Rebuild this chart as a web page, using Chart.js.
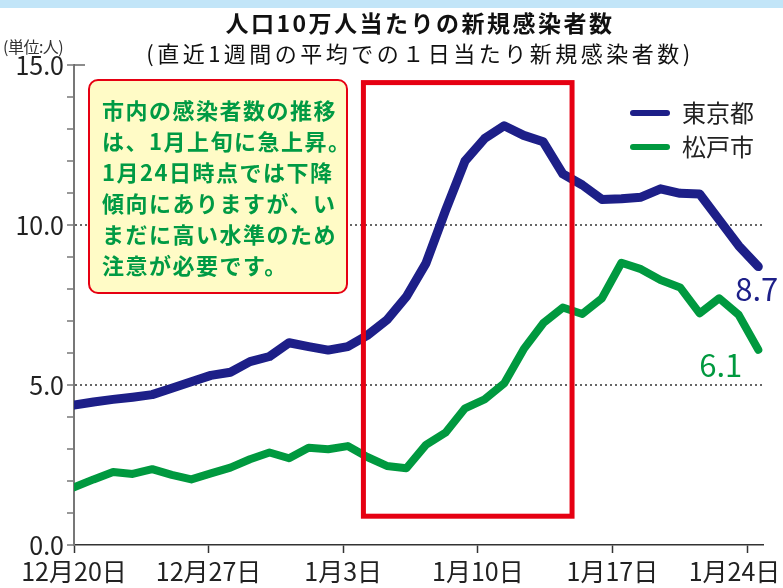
<!DOCTYPE html>
<html lang="ja">
<head>
<meta charset="utf-8">
<script src="https://cdn.jsdelivr.net/npm/chart.js@4.4.1/dist/chart.umd.min.js"></script>
<style>
  html, body { margin: 0; padding: 0; background: #fff; }
  #wrap { position: relative; width: 783px; height: 588px; overflow: hidden; font-family: "Noto Sans CJK JP", sans-serif; }
  #band { position: absolute; left: 0; top: 0; width: 783px; height: 8px; background: #c2e5f8; }
  #chart { position: absolute; left: 0; top: 0; }
  .title { position: absolute; left: 0; width: 840px; text-align: center; color: #111; white-space: nowrap; line-height: 28px; }
  #t1 { top: 8px; font-size: 23px; font-weight: bold; letter-spacing: 2.5px; }
  #t2 { top: 38px; font-size: 22px; letter-spacing: 3.5px; }
  #unit { position: absolute; left: 3px; top: 34px; font-size: 16px; color: #333; white-space: nowrap; letter-spacing: -0.5px; }
  #note {
    position: absolute; left: 88px; top: 79px; width: 260px; height: 215px;
    border: 2.5px solid #e60012; border-radius: 10px; background: #fffbc6;
    color: #009a44; font-weight: bold; font-size: 22px; line-height: 31px; letter-spacing: 1.5px;
    padding: 13px 0 0 12px; box-sizing: border-box; white-space: nowrap;
  }
  .leg { position: absolute; left: 630px; height: 30px; font-size: 24px; line-height: 30px; color: #222; white-space: nowrap; }
  .leg i { display: inline-block; width: 40px; height: 6px; border-radius: 3px; vertical-align: middle; margin-right: 12px; position: relative; top: -2px; }
</style>
</head>
<body>
<div id="wrap">
  <div id="band"></div>
  <canvas id="chart" width="783" height="588"></canvas>
  <div class="title" id="t1">人口10万人当たりの新規感染者数</div>
  <div class="title" id="t2">(直近1週間の平均での１日当たり新規感染者数)</div>
  <div id="unit">(単位:人)</div>
  <div id="note">市内の感染者数の推移<br>は、1月上旬に急上昇。<br>1月24日時点では下降<br>傾向にありますが、い<br>まだに高い水準のため<br>注意が必要です。</div>
  <div class="leg" style="top:97px"><i style="background:#1d1f88"></i>東京都</div>
  <div class="leg" style="top:131px"><i style="background:#00993f"></i>松戸市</div>
</div>
<script>
// daily points, 12/20 .. 1/24
const dates = ['12/20','12/21','12/22','12/23','12/24','12/25','12/26','12/27','12/28','12/29','12/30','12/31',
  '1/1','1/2','1/3','1/4','1/5','1/6','1/7','1/8','1/9','1/10','1/11','1/12','1/13','1/14','1/15','1/16',
  '1/17','1/18','1/19','1/20','1/21','1/22','1/23','1/24']
const tokyo = [4.37, 4.47, 4.55, 4.62, 4.70, 4.90, 5.10, 5.30, 5.40, 5.73, 5.89, 6.32, 6.20, 6.09, 6.20, 6.55,
  7.03, 7.76, 8.80, 10.45, 12.00, 12.70, 13.10, 12.80, 12.60, 11.60, 11.25, 10.80, 10.82, 10.87, 11.13, 10.99,
  10.97, 10.16, 9.35, 8.70]
const matsudo = [1.80, 2.05, 2.28, 2.22, 2.37, 2.19, 2.05, 2.24, 2.42, 2.68, 2.89, 2.71, 3.04, 2.99, 3.09, 2.75,
  2.47, 2.40, 3.13, 3.51, 4.27, 4.55, 5.05, 6.12, 6.93, 7.42, 7.22, 7.71, 8.82, 8.62, 8.28, 8.05,
  7.24, 7.71, 7.19, 6.10]
const xLabels = ['12月20日','12月27日','1月3日','1月10日','1月17日','1月24日']
const yTicks = [0,1,2,3,4,5,6,7,8,9,10,11,12,13,14,15]

const NAVY = '#1d1f88'
const GREEN = '#00993f'
const FONT = '"Noto Sans CJK JP", sans-serif'

const toPts = arr => arr.map((v, i) => ({ x: i, y: v }))

// red frame, 15.0 cap and end values
const overlay = {
  id: 'overlay',
  afterDatasetsDraw(chart) {
    const { ctx } = chart
    const xt = chart.scales.xt, y = chart.scales.y, x = chart.scales.x
    ctx.save()
    const l = xt.getPixelForValue(15.05), r = xt.getPixelForValue(25.9)
    const t = y.getPixelForValue(14.45), b = y.getPixelForValue(0.9)
    ctx.strokeStyle = '#e60012'
    ctx.lineWidth = 5
    ctx.strokeRect(l, t, r - l, b - t)

    ctx.strokeStyle = '#666'
    ctx.lineWidth = 1.5
    const y15 = y.getPixelForValue(15)
    ctx.beginPath()
    ctx.moveTo(y.right, y15)
    ctx.lineTo(y.right + 11, y15)
    ctx.stroke()

    const last = dates.length - 1
    ctx.font = '31px ' + FONT
    ctx.textAlign = 'right'
    ctx.textBaseline = 'middle'
    ctx.fillStyle = NAVY
    ctx.fillText(tokyo[last].toFixed(1), x.getPixelForValue(last) + 20, y.getPixelForValue(tokyo[last]) + 23)
    ctx.fillStyle = GREEN
    ctx.fillText(matsudo[last].toFixed(1), x.getPixelForValue(last) - 16, y.getPixelForValue(matsudo[last]) + 15)
    ctx.restore()
  }
}

new Chart(document.getElementById('chart'), {
  type: 'line',
  data: {
    datasets: [
      { label: '東京都', data: toPts(tokyo), borderColor: NAVY, borderWidth: 9, xAxisID: 'x',
        clip: { left: 0, top: false, right: false, bottom: false } },
      { label: '松戸市', data: toPts(matsudo), borderColor: GREEN, borderWidth: 8, xAxisID: 'x',
        clip: { left: 0, top: false, right: false, bottom: false } },
    ],
  },
  options: {
    responsive: false,
    animation: false,
    layout: { padding: { top: 65, right: 20, left: 0, bottom: 0 } },
    elements: {
      point: { radius: 0 },
      line: { tension: 0, borderCapStyle: 'round', borderJoinStyle: 'round' },
    },
    plugins: { legend: { display: false }, tooltip: { enabled: false } },
    scales: {
      x: { type: 'linear', display: false, min: 0, max: 35.24 },
      xt: {
        type: 'linear', position: 'bottom', min: 0, max: 35.83,
        afterBuildTicks: s => { s.ticks = xLabels.map((_, i) => ({ value: i * 7 })) },
        afterFit: s => { s.height = 43; s.paddingLeft = 0; s.paddingRight = 0 },
        ticks: {
          autoSkip: false, maxRotation: 0, padding: 3, color: '#222',
          font: { family: FONT, size: 25 },
          callback: (v, i) => xLabels[i] + (i === xLabels.length - 1 ? '\u2002\u2002' : ''),
        },
        grid: { drawOnChartArea: false, tickLength: 8, tickColor: '#333', tickWidth: 1.5 },
        border: { color: '#333', width: 1.5 },
      },
      y: {
        min: 0, max: 15,
        afterBuildTicks: s => { s.ticks = yTicks.map(v => ({ value: v })) },
        afterFit: s => { s.width = 74; s.paddingTop = 0; s.paddingBottom = 0 },
        ticks: {
          autoSkip: false, padding: 3, color: '#222',
          font: { family: FONT, size: 25 },
          callback: v => (v % 5 === 0 ? v.toFixed(1) : ''),
        },
        grid: {
          color: c => (c.tick && (c.tick.value === 5 || c.tick.value === 10) ? '#666' : 'rgba(0,0,0,0)'),
          lineWidth: 2, tickLength: 7, tickColor: '#777', tickWidth: 1.5,
        },
        border: { color: '#777', width: 2, dash: [2, 3] },
      },
    },
  },
  plugins: [overlay],
})
</script>
</body>
</html>
